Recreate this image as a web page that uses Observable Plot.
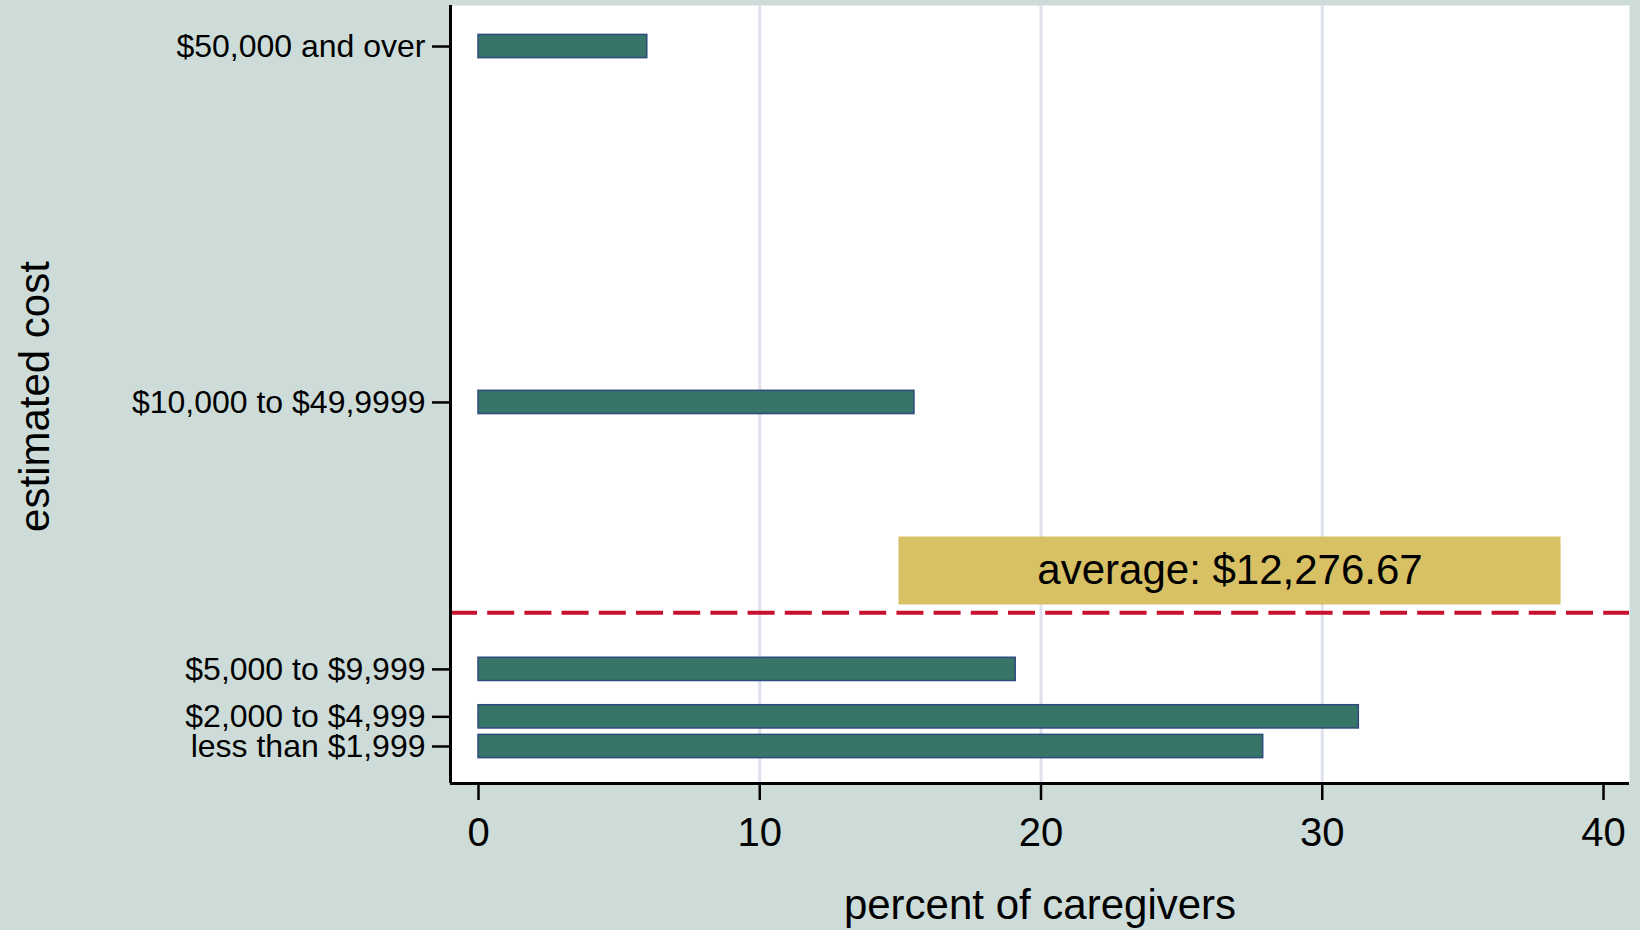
<!DOCTYPE html>
<html>
<head>
<meta charset="utf-8">
<script src="https://cdn.jsdelivr.net/npm/d3@7"></script>
<script src="https://cdn.jsdelivr.net/npm/@observablehq/plot@0.6"></script>
<style>
  html, body { margin: 0; padding: 0; background: #cddcd8; }
  #chart { width: 1640px; height: 930px; }
</style>
</head>
<body>
<div id="chart"></div>
<script>
// ---- data ----
const categories = ["less than $1,999", "$2,000 to $4,999", "$5,000 to $9,999", "$10,000 to $49,9999", "$50,000 and over"];
const costMidpoints = [1000, 3500, 7500, 30000, 60000];   // y position on the cost scale
const percents = [27.9, 31.3, 19.1, 15.5, 6.0];           // percent of caregivers
const averageCost = 12276.67;
const averageLabel = "average: $12,276.67";
const xTicks = [0, 10, 20, 30, 40];
const gridX = [10, 20, 30];

const rows = categories.map((c, i) => ({category: c, mid: costMidpoints[i], pct: percents[i]}));
const labelOf = new Map(costMidpoints.map((m, i) => [m, categories[i]]));

const xDomain = [-0.996, 40.924];
const yDomain = [-2119, 63458];
const halfBar = 980;
const box = {x1: 14.95, x2: 38.49, y1: 12927, y2: 18658};

const chart = Plot.plot({
  width: 1640,
  height: 930,
  marginLeft: 450,
  marginRight: 11,
  marginTop: 5,
  marginBottom: 147,
  style: {background: "transparent", fontFamily: "'Liberation Sans', Arial, sans-serif", color: "black", overflow: "visible"},
  x: {domain: xDomain},
  y: {domain: yDomain},
  marks: [
    Plot.frame({fill: "white", stroke: null}),
    Plot.ruleX(gridX, {stroke: "#dde2ee", strokeWidth: 3}),
    Plot.rect(rows, {
      x1: d => 0, x2: "pct",
      y1: d => d.mid - halfBar, y2: d => d.mid + halfBar,
      fill: "#367568", stroke: "#2f4a7c", strokeWidth: 1.5
    }),
    Plot.rect([box], {x1: "x1", x2: "x2", y1: "y1", y2: "y2", fill: "#d8c064"}),
    Plot.text([averageLabel], {
      x: (box.x1 + box.x2) / 2, y: (box.y1 + box.y2) / 2,
      text: d => d, fontSize: 42, fill: "black", lineAnchor: "middle"
    }),
    Plot.ruleY([averageCost], {stroke: "#c8102e", strokeWidth: 4, strokeDasharray: "27,10.2"}),
    Plot.ruleX([xDomain[0]], {stroke: "black", strokeWidth: 3}),
    Plot.ruleY([yDomain[0]], {stroke: "black", strokeWidth: 3, x1: xDomain[0] , x2: xDomain[1]}),
    Plot.axisX({ticks: xTicks, tickSize: 17, tickPadding: 17, fontSize: 40, label: null, stroke: "black", strokeWidth: 2.5, tickFormat: d => String(d)}),
    Plot.axisY({ticks: costMidpoints, tickFormat: v => labelOf.get(v), tickSize: 18, tickPadding: 7, fontSize: 32, label: null, stroke: "black", strokeWidth: 2.5}),
    Plot.text(["percent of caregivers"], {frameAnchor: "bottom", dy: 122, text: d => d, fontSize: 42, fill: "black", lineAnchor: "middle", textAnchor: "middle"}),
    Plot.text(["estimated cost"], {frameAnchor: "left", dx: -415, dy: 2, rotate: -90, text: d => d, fontSize: 42, fill: "black", lineAnchor: "middle", textAnchor: "middle"})
  ]
});
document.getElementById("chart").appendChild(chart);
</script>
</body>
</html>
